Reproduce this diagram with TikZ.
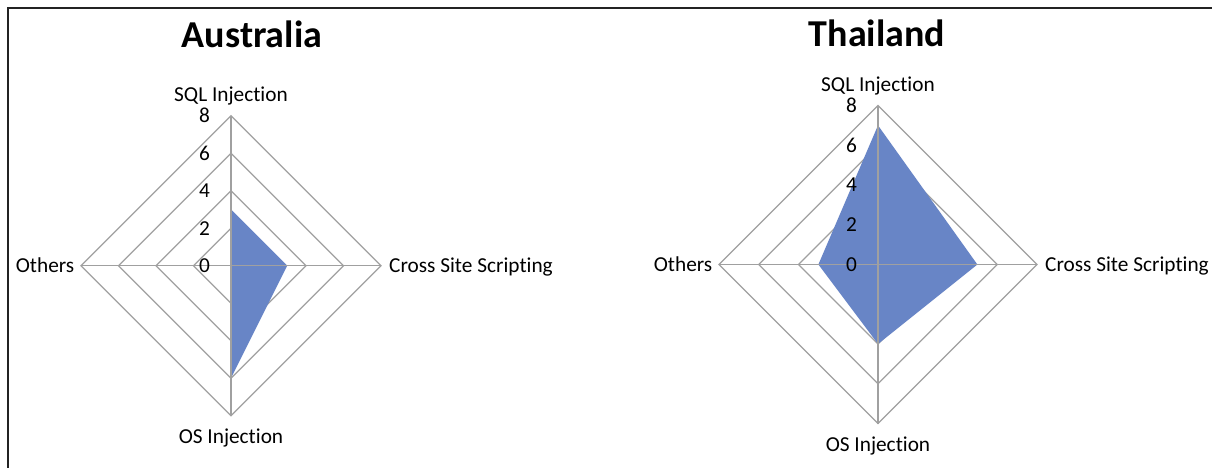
\documentclass[tikz,border=0pt]{standalone}
\usepackage{fontspec}
\setmainfont{Carlito}[Ligatures=NoCommon]

\definecolor{areafill}{RGB}{104,133,198}
\definecolor{gridgray}{RGB}{160,160,160}
\definecolor{framecol}{RGB}{35,35,35}

\tikzset{
  gridline/.style={draw=gridgray, line width=1.2pt},
  datafill/.style={fill=areafill},
  axislabel/.style={font=\fontsize{21.3}{25}\selectfont, inner sep=0pt, text=black},
  ticklabel/.style={font=\fontsize{21.3}{25}\selectfont, inner sep=0pt, anchor=east, text=black},
  charttitle/.style={font=\bfseries\fontsize{38}{45}\selectfont, inner sep=0pt, anchor=base},
  framerule/.style={draw=framecol, line width=2.4pt},
}

% Radar chart with four axes and rings at 2, 4, 6, 8.
% #1 name prefix, #2 #3 centre, #4 radius of level 8,
% #5 SQL Injection, #6 Cross Site Scripting, #7 OS Injection, #8 Others
\newcommand\radarchart[8]{%
  \begin{scope}[shift={(#2,#3)}]
    \coordinate (#1-c) at (0,0);
    \coordinate (#1-n) at (0,-#4);
    \coordinate (#1-e) at (#4,0);
    \coordinate (#1-s) at (0,#4);
    \coordinate (#1-w) at (-#4,0);
    \foreach \k in {2,4,6,8}
      \draw[gridline] (0,-#4*\k/8) -- (#4*\k/8,0) -- (0,#4*\k/8) -- (-#4*\k/8,0) -- cycle;
    \fill[datafill] (0,-#4*#5/8) -- (#4*#6/8,0) -- (0,#4*#7/8) -- (-#4*#8/8,0) -- cycle;
    \draw[gridline] (#1-n) -- (#1-s) (#1-w) -- (#1-e);
    \foreach \k in {0,2,4,6,8}
      \node[ticklabel] (#1-t\k) at (-21,-#4*\k/8) {\k};
    \node[axislabel, anchor=base] (#1-sql) at (0,-#4-14) {SQL Injection};
    \node[axislabel, anchor=base] (#1-os) at (0,#4+28) {OS Injection};
    \node[axislabel, anchor=base west] (#1-xss) at (#4+8,6.5) {Cross Site Scripting};
    \node[axislabel, anchor=base east] (#1-oth) at (-#4-6.5,6.5) {Others};
  \end{scope}}

\begin{document}
\begin{tikzpicture}[x=1pt, y=-1pt]
  \useasboundingbox (0,0) rectangle (1212,467);
  \fill[white] (0,0) rectangle (1212,467);

  % outer frame (left and top edges)
  \draw[framerule] (7.8,470) -- (7.8,7.8) -- (1215,7.8);

  \node[charttitle] (title-au) at (252,47) {Australia};
  \node[charttitle] (title-th) at (877,46.7) {Thailand};

  \radarchart{au}{231}{265.7}{150}{3}{3}{6}{0}
  \radarchart{th}{878}{264.5}{159}{7}{5}{4}{3}
\end{tikzpicture}
\end{document}
